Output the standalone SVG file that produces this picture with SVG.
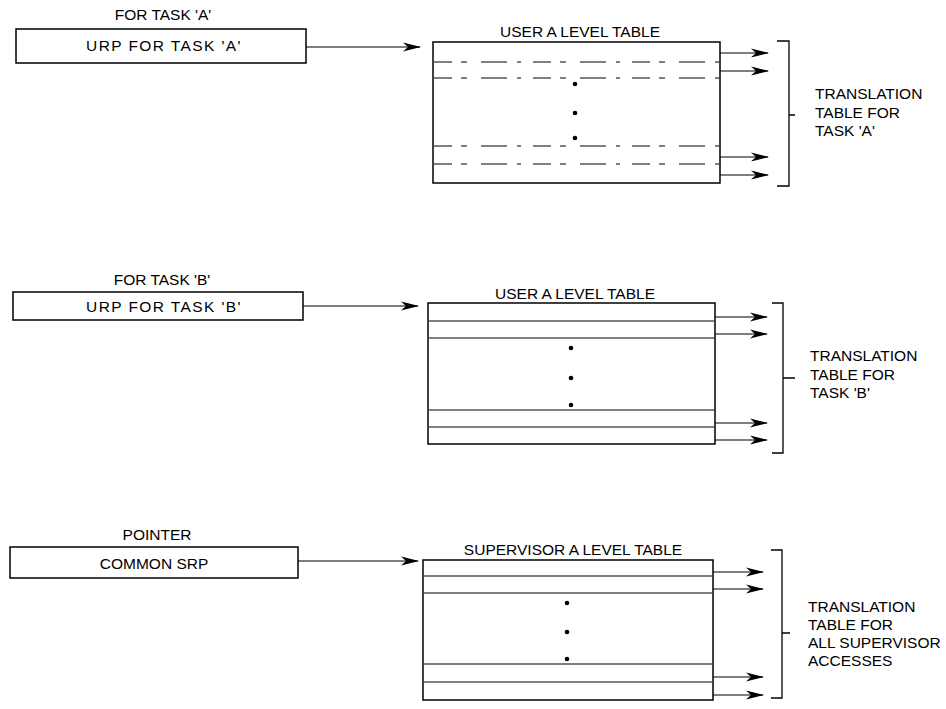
<svg xmlns="http://www.w3.org/2000/svg" width="946" height="709" viewBox="0 0 946 709">
<defs>
<marker id="ah" markerWidth="18" markerHeight="10" refX="17" refY="5" orient="auto" markerUnits="userSpaceOnUse">
<path d="M0,0.5 L18,5 L0,9.5 L5,5 Z" fill="#000"/>
</marker>
</defs>
<style>
text{font-family:"Liberation Sans",Arial,sans-serif;font-size:15.5px;fill:#000}
.c{text-anchor:middle}
.w{letter-spacing:1.4px}
.box{fill:#fff;stroke:#000;stroke-width:1.5}
.row{stroke:#000;stroke-width:1}
.rowd{stroke:#000;stroke-width:1;stroke-dasharray:18 9 6 14 26 10 4 12}
.ln{stroke:#000;stroke-width:1.3;fill:none}
.arr{stroke:#000;stroke-width:1.2;fill:none;marker-end:url(#ah)}
.dot{fill:#000}
</style>
<rect width="946" height="709" fill="#fff"/>

<g id="connectors">
<line class="arr" x1="306" y1="47" x2="420" y2="47"/>
<line class="arr" x1="303" y1="306" x2="418" y2="306"/>
<line class="arr" x1="298" y1="561" x2="418" y2="561"/>
<line class="arr" x1="720" y1="53" x2="768" y2="53"/>
<line class="arr" x1="720" y1="71" x2="768" y2="71"/>
<line class="arr" x1="720" y1="157" x2="768" y2="157"/>
<line class="arr" x1="720" y1="175" x2="768" y2="175"/>
<line class="arr" x1="715" y1="317" x2="767" y2="317"/>
<line class="arr" x1="715" y1="334" x2="767" y2="334"/>
<line class="arr" x1="715" y1="423" x2="767" y2="423"/>
<line class="arr" x1="715" y1="440" x2="767" y2="440"/>
<line class="arr" x1="713" y1="572" x2="763" y2="572"/>
<line class="arr" x1="713" y1="589" x2="763" y2="589"/>
<line class="arr" x1="713" y1="677" x2="763" y2="677"/>
<line class="arr" x1="713" y1="695" x2="763" y2="695"/>
</g>

<g id="urpA">
<text class="c" x="163" y="20">FOR TASK 'A'</text>
<rect class="box" x="16" y="29" width="290" height="34"/>
<text class="c w" x="164" y="51">URP FOR TASK 'A'</text>
</g>

<g id="tableA">
<text class="c" x="580" y="37">USER A LEVEL TABLE</text>
<rect class="box" x="433" y="42" width="287" height="141"/>
<line class="rowd" x1="434" y1="62" x2="719" y2="62"/>
<line class="rowd" x1="434" y1="78" x2="719" y2="78"/>
<line class="rowd" x1="434" y1="146" x2="719" y2="146"/>
<line class="rowd" x1="434" y1="164" x2="719" y2="164"/>
<circle class="dot" cx="575" cy="84" r="2.3"/>
<circle class="dot" cx="575" cy="113" r="2.3"/>
<circle class="dot" cx="575" cy="138" r="2.3"/>
</g>

<g id="bracketA">
<path class="ln" d="M777,41 H789 V186 H777 M789,115 H795"/>
<text x="815" y="99">TRANSLATION</text>
<text x="815" y="117.5">TABLE FOR</text>
<text x="815" y="136">TASK 'A'</text>
</g>

<g id="urpB">
<text class="c" x="162" y="285">FOR TASK 'B'</text>
<rect class="box" x="13" y="292" width="290" height="28"/>
<text class="c w" x="164" y="312">URP FOR TASK 'B'</text>
</g>

<g id="tableB">
<text class="c" x="575" y="299">USER A LEVEL TABLE</text>
<rect class="box" x="428" y="303" width="287" height="141"/>
<line class="row" x1="429" y1="321" x2="714" y2="321"/>
<line class="row" x1="429" y1="338" x2="714" y2="338"/>
<line class="row" x1="429" y1="410" x2="714" y2="410"/>
<line class="row" x1="429" y1="427" x2="714" y2="427"/>
<circle class="dot" cx="571" cy="348" r="2.3"/>
<circle class="dot" cx="571" cy="378" r="2.3"/>
<circle class="dot" cx="571" cy="405" r="2.3"/>
</g>

<g id="bracketB">
<path class="ln" d="M772,303 H783 V453 H772 M783,378 H795"/>
<text x="810" y="361">TRANSLATION</text>
<text x="810" y="379.5">TABLE FOR</text>
<text x="810" y="398">TASK 'B'</text>
</g>

<g id="srp">
<text class="c" x="157" y="540">POINTER</text>
<rect class="box" x="10" y="547" width="288" height="31"/>
<text class="c" x="154" y="569">COMMON SRP</text>
</g>

<g id="tableC">
<text class="c" x="573" y="555">SUPERVISOR A LEVEL TABLE</text>
<rect class="box" x="423" y="560" width="290" height="140"/>
<line class="row" x1="424" y1="576" x2="712" y2="576"/>
<line class="row" x1="424" y1="593" x2="712" y2="593"/>
<line class="row" x1="424" y1="664" x2="712" y2="664"/>
<line class="row" x1="424" y1="682" x2="712" y2="682"/>
<circle class="dot" cx="567" cy="603" r="2.3"/>
<circle class="dot" cx="567" cy="632" r="2.3"/>
<circle class="dot" cx="567" cy="659" r="2.3"/>
</g>

<g id="bracketC">
<path class="ln" d="M771,550 H782 V698 H771 M782,633 H790"/>
<text x="808" y="612">TRANSLATION</text>
<text x="808" y="630">TABLE FOR</text>
<text x="808" y="648">ALL SUPERVISOR</text>
<text x="808" y="666">ACCESSES</text>
</g>
</svg>
